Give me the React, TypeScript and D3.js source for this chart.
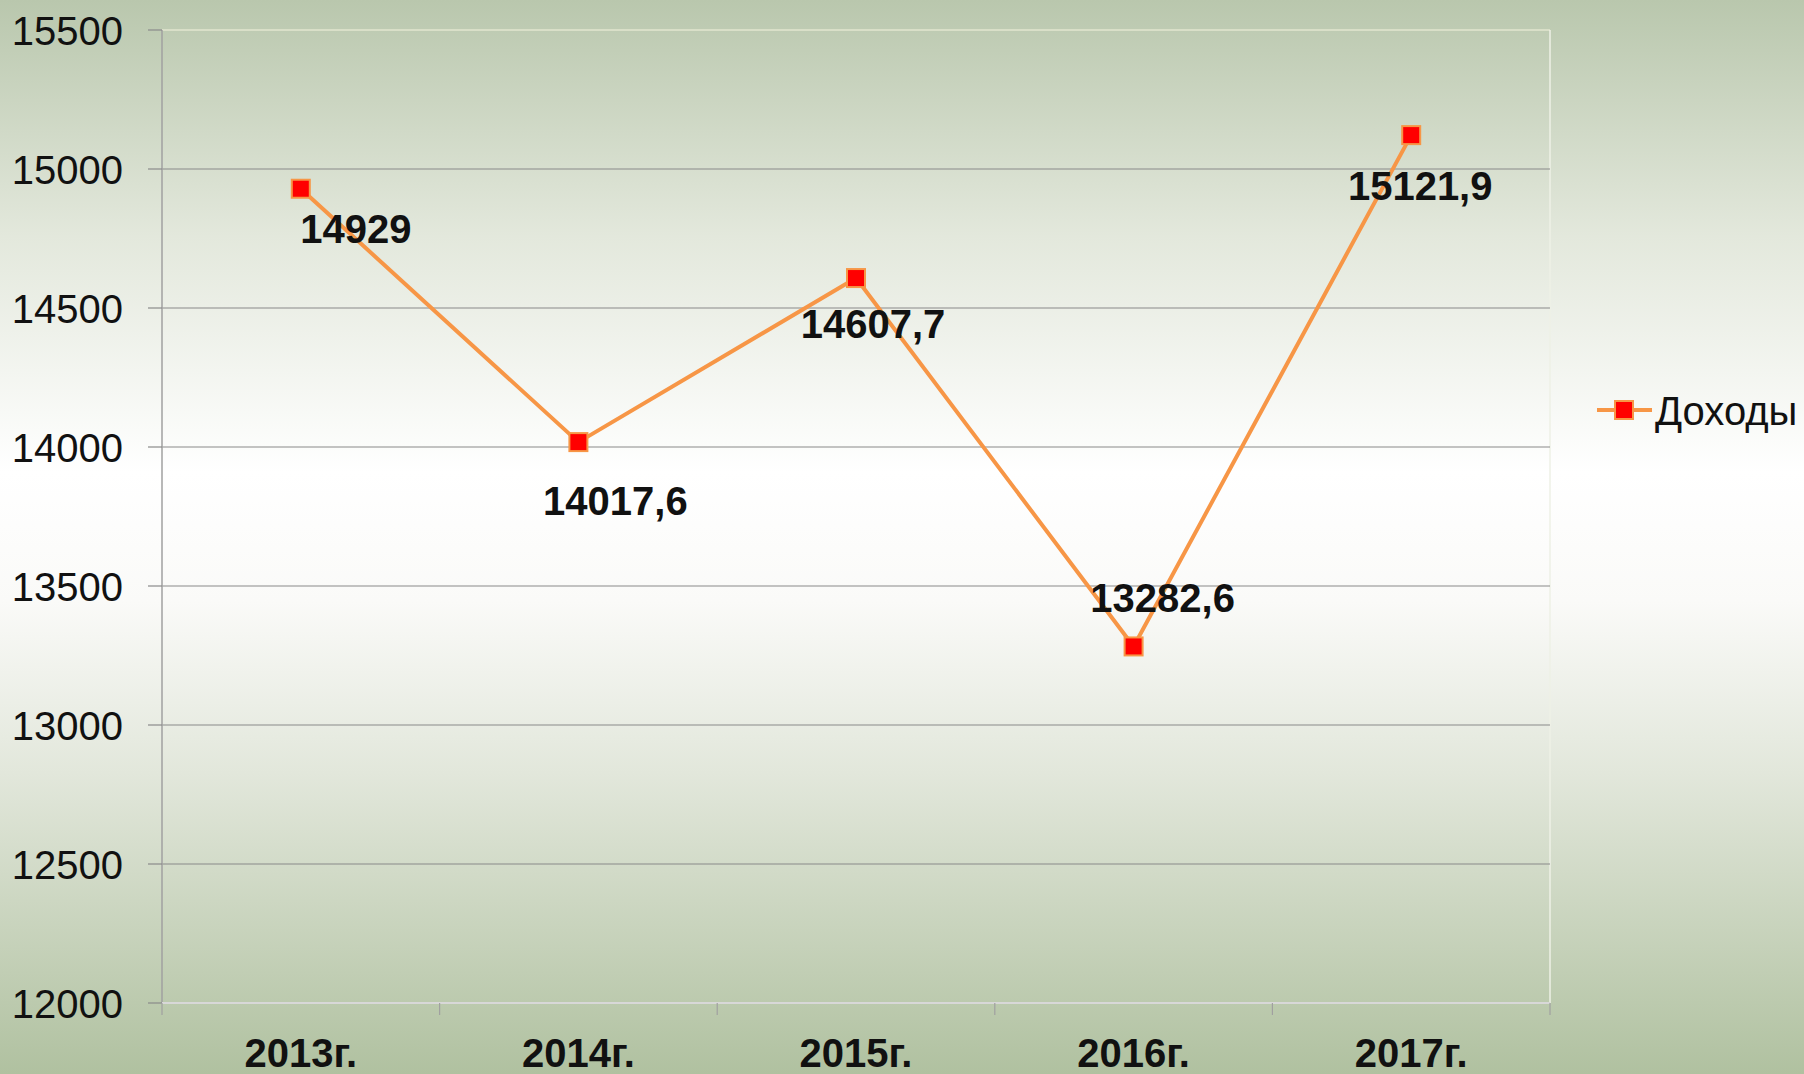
import React from "react";
import * as d3 from "d3";

const categories = ["2013г.", "2014г.", "2015г.", "2016г.", "2017г."];
const incomes = [14929, 14017.6, 14607.7, 13282.6, 15121.9];
const valueLabels = ["14929", "14017,6", "14607,7", "13282,6", "15121,9"];
const yTicks = [12000, 12500, 13000, 13500, 14000, 14500, 15000, 15500];
const seriesName = "Доходы";
// label placement offsets (layout only): [dx to label center, dy to baseline]
const labelOffsets: [number, number][] = [
  [55, 54],
  [37, 73],
  [17, 60],
  [29, -34],
  [9, 65],
];

const W = 1804;
const H = 1074;
const left = 162;
const right = 1550;
const top = 30;
const bottom = 1003;

export default function App() {
  const x = d3.scaleBand<string>().domain(categories).range([left, right]).padding(0);
  const y = d3.scaleLinear().domain([12000, 15500]).range([bottom, top]);
  const cx = (c: string) => (x(c) ?? 0) + x.bandwidth() / 2;
  const line = d3
    .line<number>()
    .x((_, i) => cx(categories[i]))
    .y((d) => y(d));
  const font = "'Liberation Sans', Arial, sans-serif";
  const ms = 18;

  return (
    <svg
      width={W}
      height={H}
      style={{ position: "absolute", left: 0, top: 0, display: "block" }}
      fontFamily={font}
    >
      <defs>
        <linearGradient id="bg" x1="0" y1="0" x2="0" y2="1">
          <stop offset="0" stopColor="#b9c7ad" />
          <stop offset="0.22" stopColor="#e3e8dc" />
          <stop offset="0.44" stopColor="#ffffff" />
          <stop offset="0.56" stopColor="#fafaf8" />
          <stop offset="0.72" stopColor="#e2e7db" />
          <stop offset="1" stopColor="#b0c1a0" />
        </linearGradient>
      </defs>
      <rect x={0} y={0} width={W} height={H} fill="url(#bg)" />

      {/* plot border top/right (faint) */}
      <line x1={left} x2={right} y1={top} y2={top} stroke="#e2e6cf" strokeWidth={1.5} />
      <line x1={right} x2={right} y1={top} y2={bottom} stroke="#eef1e6" strokeWidth={1.5} />

      {/* gridlines */}
      {yTicks.slice(1, -1).map((t) => (
        <line key={t} x1={left} x2={right} y1={y(t)} y2={y(t)} stroke="#8a8a8a" strokeWidth={1.2} />
      ))}

      {/* y axis */}
      <line x1={left} x2={left} y1={top} y2={bottom} stroke="#a0a0a0" strokeWidth={1.5} />
      {yTicks.map((t) => (
        <g key={t}>
          <line x1={left - 14} x2={left} y1={y(t)} y2={y(t)} stroke="#8a8a8a" strokeWidth={1.2} />
          <text x={123} y={y(t) + 15} textAnchor="end" fontSize={40} fill="#111">
            {t}
          </text>
        </g>
      ))}

      {/* x axis */}
      <line x1={left} x2={right} y1={bottom} y2={bottom} stroke="#d8d8d8" strokeWidth={2} />
      {categories.map((c) => (
        <line key={c} x1={x(c)} x2={x(c)} y1={bottom} y2={bottom + 12} stroke="#a0a0a0" strokeWidth={1.2} />
      ))}
      <line x1={right} x2={right} y1={bottom} y2={bottom + 12} stroke="#a0a0a0" strokeWidth={1.2} />
      {categories.map((c) => (
        <text key={c} x={cx(c)} y={1067} textAnchor="middle" fontSize={40} fontWeight="bold" fill="#111">
          {c}
        </text>
      ))}

      {/* series line */}
      <path d={line(incomes) ?? ""} fill="none" stroke="#f79646" strokeWidth={4} strokeLinejoin="round" />
      {incomes.map((v, i) => (
        <rect
          key={i}
          x={cx(categories[i]) - ms / 2}
          y={y(v) - ms / 2}
          width={ms}
          height={ms}
          fill="#ff0000"
          stroke="#f79646"
          strokeWidth={2}
        />
      ))}

      {/* data labels */}
      {incomes.map((v, i) => (
        <text
          key={i}
          x={cx(categories[i]) + labelOffsets[i][0]}
          y={y(v) + labelOffsets[i][1]}
          textAnchor="middle"
          fontSize={40}
          fontWeight="bold"
          fill="#111"
        >
          {valueLabels[i]}
        </text>
      ))}

      {/* legend */}
      <line x1={1597} x2={1652} y1={410} y2={410} stroke="#f79646" strokeWidth={4} />
      <rect x={1624 - ms / 2} y={410 - ms / 2} width={ms} height={ms} fill="#ff0000" stroke="#f79646" strokeWidth={2} />
      <text x={1655} y={425} fontSize={40} fill="#111">
        {seriesName}
      </text>
    </svg>
  );
}
